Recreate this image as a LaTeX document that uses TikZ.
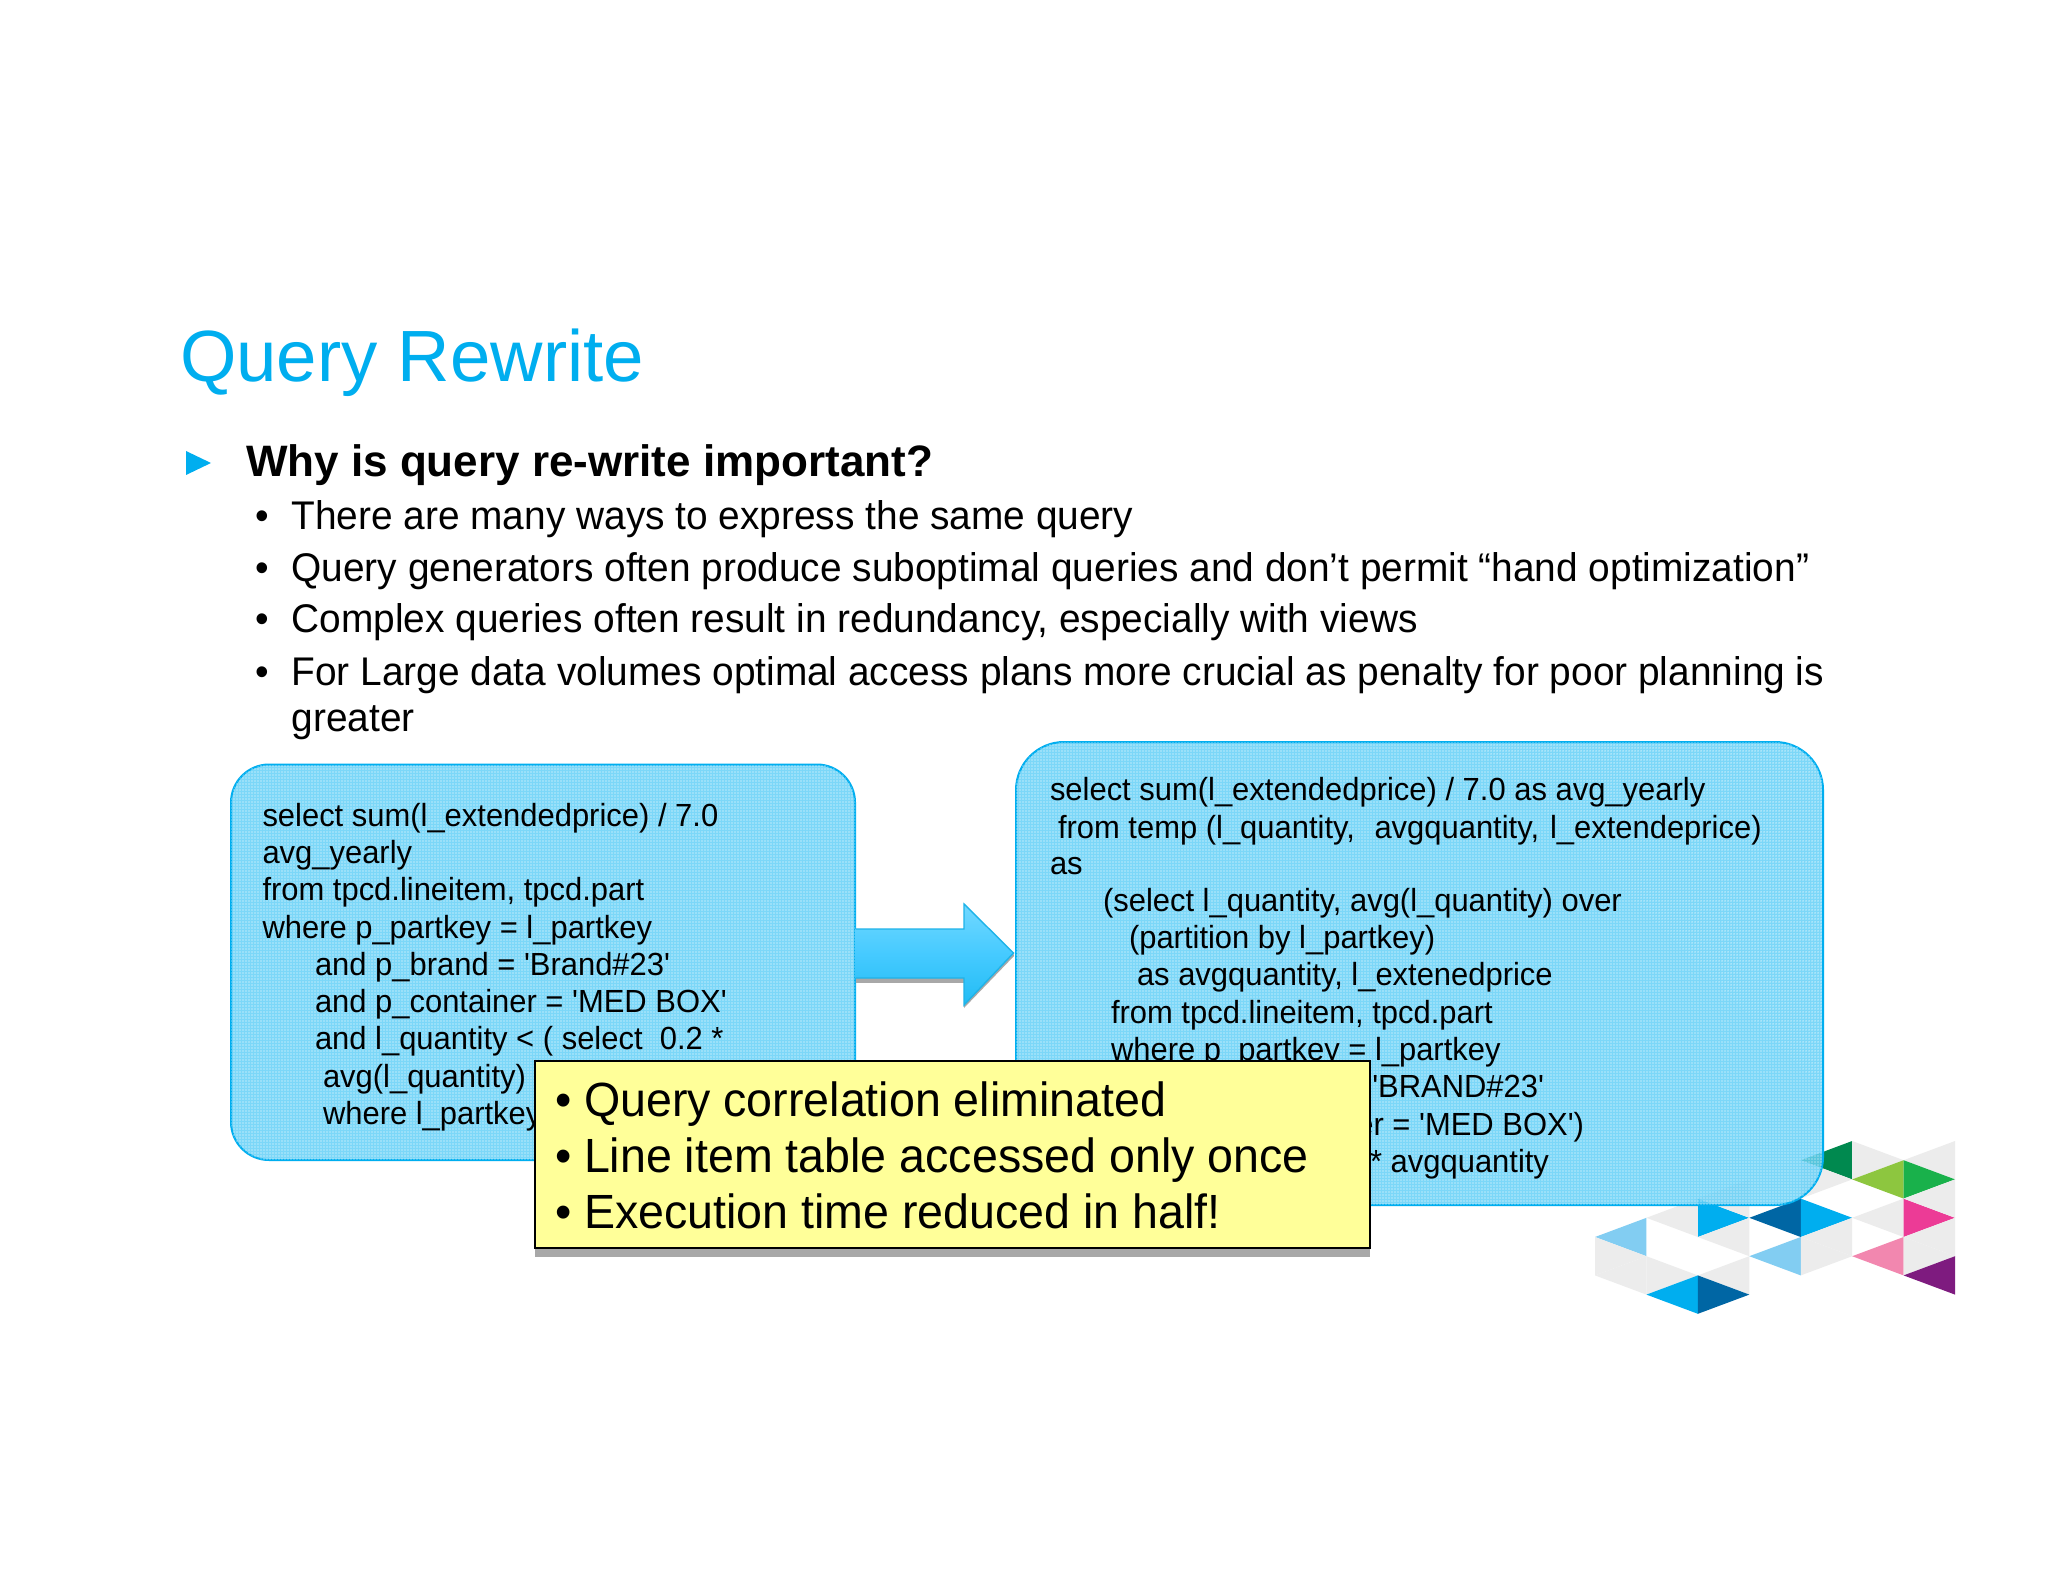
\documentclass[tikz,border=0pt]{standalone}
\usepackage{fontspec}
\usetikzlibrary{patterns.meta}
\setmainfont{Liberation Sans}
\newfontfamily\condfont[FakeStretch=0.967]{Liberation Sans}
\newfontfamily\bodyfont[FakeStretch=0.971]{Liberation Sans}
\newfontfamily\notefont[FakeStretch=0.970]{Liberation Sans}
\definecolor{ibmblue}{HTML}{00AEEF}
\definecolor{titleblue}{HTML}{00AEEF}
\definecolor{boxfill}{HTML}{66D0F7}
\definecolor{logogray}{HTML}{ECECEC}
\definecolor{logodkblue}{HTML}{0066A4}
\definecolor{logoltblue}{HTML}{82CDF2}
\definecolor{logodkgreen}{HTML}{00894F}
\definecolor{logoltgreen}{HTML}{8DC63F}
\definecolor{logogreen}{HTML}{19B14B}
\definecolor{logomagenta}{HTML}{EC3B96}
\definecolor{logopink}{HTML}{F287AF}
\definecolor{logopurple}{HTML}{7E1B7F}
\definecolor{notefill}{HTML}{FFFF99}
\definecolor{shadowgray}{HTML}{A8A8A8}
\definecolor{arrowtop}{HTML}{72D8FF}
\definecolor{arrowmid}{HTML}{45CAFF}
\definecolor{arrowbot}{HTML}{22BCF4}
\definecolor{arrowline}{HTML}{1EB3E8}
\newcommand{\ltri}[7]{\fill[#1] ({1595+51.43*#2},{1141+19.2*#3}) -- ({1595+51.43*#4},{1141+19.2*#5}) -- ({1595+51.43*#6},{1141+19.2*#7}) -- cycle;}
\tikzset{
  x=0.5pt,y=-0.5pt,
  txt/.style={anchor=base west,inner sep=0pt,outer sep=0pt,text=black},
  title/.style={txt,text=titleblue,font=\fontsize{36.3}{36.3}\selectfont},
  head/.style={txt,font=\bfseries\fontsize{22}{22}\selectfont},
  body/.style={txt,font=\bodyfont\fontsize{20}{20}\selectfont},
  sql/.style={txt,font=\condfont\fontsize{16}{16}\selectfont},
  sqlr/.style={sql,anchor=base east},
  notetxt/.style={txt,font=\notefont\fontsize{24}{24}\selectfont},
  codebox/.style={draw=ibmblue,line width=1pt,fill=boxfill,fill opacity=0.85},
  weave/.style={pattern={Dots[distance=1.5pt,radius=0.35pt]},pattern color=white},
}
\begin{document}
\begin{tikzpicture}
\useasboundingbox (0,0) rectangle (2048,1582);
\fill[white] (0,0) rectangle (2048,1582);
% logo
\ltri{logodkgreen}{4}{1}{5}{0}{5}{2}
\ltri{logogray}{5}{0}{6}{1}{5}{2}
\ltri{logogray}{7}{0}{6}{1}{7}{2}
\ltri{logoltgreen}{5}{2}{6}{1}{6}{3}
\ltri{logogreen}{6}{1}{7}{2}{6}{3}
\ltri{logogray}{5}{2}{4}{1}{4}{3}
\ltri{logodkblue}{3}{4}{4}{3}{4}{5}
\ltri{ibmblue}{4}{3}{5}{4}{4}{5}
\ltri{ibmblue}{2}{3}{3}{4}{2}{5}
\ltri{logogray}{3}{2}{2}{3}{3}{4}
\ltri{logogray}{2}{3}{1}{4}{2}{5}
\ltri{logogray}{3}{4}{2}{5}{3}{6}
\ltri{logoltblue}{0}{5}{1}{4}{1}{6}
\ltri{logogray}{0}{5}{1}{6}{0}{7}
\ltri{logogray}{1}{6}{0}{7}{1}{8}
\ltri{logogray}{1}{6}{2}{7}{1}{8}
\ltri{logogray}{2}{7}{3}{6}{3}{8}
\ltri{ibmblue}{1}{8}{2}{7}{2}{9}
\ltri{logodkblue}{2}{7}{3}{8}{2}{9}
\ltri{logoltblue}{3}{6}{4}{5}{4}{7}
\ltri{logogray}{4}{5}{5}{4}{5}{6}
\ltri{logogray}{4}{5}{5}{6}{4}{7}
\ltri{logogray}{5}{4}{6}{3}{6}{5}
\ltri{logomagenta}{6}{3}{7}{4}{6}{5}
\ltri{logopink}{5}{6}{6}{5}{6}{7}
\ltri{logogray}{6}{5}{7}{4}{7}{6}
\ltri{logogray}{6}{5}{7}{6}{6}{7}
\ltri{logogray}{7}{2}{6}{3}{7}{4}
\ltri{logopurple}{6}{7}{7}{6}{7}{8}
% title and bullets
\node[title] (ttl) at (180,382) {Query Rewrite};
\fill[ibmblue] (186,451) -- (211,463) -- (186,475) -- cycle;
\node[head] (hd) at (246,477) {Why is query re-write important?};
\node[body] (b1) at (255,530) {•};
\node[body] (t1) at (291.5,530) {There are many ways to express the same query};
\node[body] (b2) at (255,581.5) {•};
\node[body] (t2) at (291.5,581.5) {Query generators often produce suboptimal queries and don’t permit “hand optimization”};
\node[body] (b3) at (255,632.5) {•};
\node[body] (t3) at (291.5,632.5) {Complex queries often result in redundancy, especially with views};
\node[body] (b4) at (255,685) {•};
\node[body] (t4) at (291.5,685) {For Large data volumes optimal access plans more crucial as penalty for poor planning is};
\node[body] (t5) at (291.5,731) {greater};
% code boxes
\path[codebox,rounded corners=19pt] (231,764.5) rectangle (855,1160);
\fill[weave,rounded corners=19pt] (231,764.5) rectangle (855,1160);
\coordinate (lbe) at (855.5,953);
\path[codebox,rounded corners=24pt] (1016,742) rectangle (1823,1205);
\fill[weave,rounded corners=24pt] (1016,742) rectangle (1823,1205);
\coordinate (rbw) at (1013.5,953);
% left code
\node[sql] (l1) at (262.5,826.5) {select sum(l\_extendedprice) / 7.0};
\node[sql] (l2) at (262.5,863.5) {avg\_yearly};
\node[sql] (l3) at (262.5,900.5) {from tpcd.lineitem, tpcd.part};
\node[sql] (l4) at (262.5,938) {where p\_partkey = l\_partkey};
\node[sql] (l5) at (315,975) {and p\_brand = 'Brand\#23'};
\node[sql] (l6) at (315,1012) {and p\_container = 'MED BOX'};
\node[sql] (l7) at (315,1049.5) {and l\_quantity < ( select\ \ 0.2 *};
\node[sql] (l8) at (323,1087) {avg(l\_quantity)};
\node[sql] (l9) at (323,1124) {where l\_partkey};
% right code
\node[sql] (r1) at (1050,800.5) {select sum(l\_extendedprice) / 7.0 as avg\_yearly};
\node[sql] (r2) at (1058,838) {from temp (l\_quantity,\ \ \hspace{1.2pt}avgquantity, \hspace{1.2pt}l\_extendeprice)};
\node[sql] (r3) at (1050,874.5) {as};
\node[sql] (r4) at (1103,911.5) {(select l\_quantity, avg(l\_quantity) over};
\node[sql] (r5) at (1129,948.6) {(partition by l\_partkey)};
\node[sql] (r6) at (1137,985.9) {as avgquantity, l\_extenedprice};
\node[sql] (r7) at (1111,1023) {from tpcd.lineitem, tpcd.part};
\node[sql] (r8) at (1111,1060.5) {where p\_partkey = l\_partkey};
\node[sqlr] (r9) at (1544,1097.8) {'BRAND\#23'};
\node[sqlr] (r10) at (1584,1135) {er = 'MED BOX')};
\node[sqlr] (r11) at (1549,1172) {* avgquantity};
% arrow
\fill[shadowgray] (lbe |- 0,978) -- (964,978) -- (964,983) -- (lbe |- 0,983) -- cycle;
\fill[shadowgray] (964,983) -- (964,1008) -- (1014,956) -- (1013,952) -- cycle;
\draw[draw=arrowline,line width=0.7pt,top color=arrowtop,bottom color=arrowbot,middle color=arrowmid]
  (lbe |- 0,929) -- (964,929) -- (964,904) -- (rbw) -- (964,1005) -- (964,978) -- (lbe |- 0,978);
% note
\fill[shadowgray] (535,1248) rectangle (1370,1256.5);
\node[draw=black,line width=1pt,fill=notefill,anchor=north west,minimum width=417.5pt,minimum height=93.5pt,inner sep=0pt,outer sep=0pt] (note) at (535,1061) {};
\node[notetxt] (n1b) at (555,1116.5) {•};
\node[notetxt] (n1) at (584,1116.5) {Query correlation eliminated};
\node[notetxt] (n2b) at (555,1172.5) {•};
\node[notetxt] (n2) at (584,1172.5) {Line item table accessed only once};
\node[notetxt] (n3b) at (555,1228.5) {•};
\node[notetxt] (n3) at (584,1228.5) {Execution time reduced in half!};
\end{tikzpicture}
\end{document}
